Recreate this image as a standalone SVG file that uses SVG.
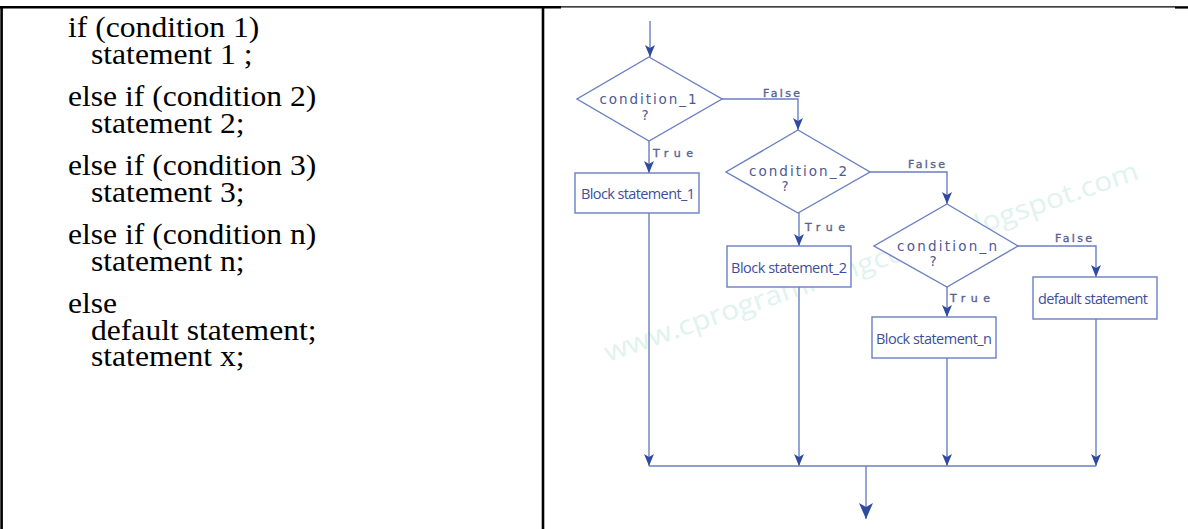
<svg xmlns="http://www.w3.org/2000/svg" width="1188" height="529" viewBox="0 0 1188 529">
<style>
.code{font-family:"Liberation Serif","Times New Roman",serif;font-size:29px;fill:#000}
.tbl{stroke:#000;fill:none}
.ln{stroke:#6a7fc2;stroke-width:1.4;fill:none}
.shape{stroke:#6a7fc2;stroke-width:1.4;fill:#fff}
.cond{font-family:"DejaVu Sans",sans-serif;font-size:13.5px;fill:#4c5a94;text-anchor:middle}
.blk{font-family:"Open Sans","Noto Sans",sans-serif;font-size:14.5px;fill:#3d4f9a;text-anchor:middle}
.tf{font-family:"DejaVu Sans",sans-serif;font-size:11px;fill:#56628f;stroke:#56628f;stroke-width:0.35}
.wm{font-family:"Open Sans","Noto Sans",sans-serif;font-size:27px;fill:#e0f3ee}
</style>
<defs>
<marker id="ah" viewBox="0 0 12 10" refX="12" refY="5" markerWidth="12" markerHeight="10" markerUnits="userSpaceOnUse" orient="auto">
<path d="M0,0 L12,5 L0,10 L3,5 Z" fill="#2f4a9e"/>
</marker>
<marker id="ahbig" viewBox="0 0 16 14" refX="16" refY="7" markerWidth="16" markerHeight="14" markerUnits="userSpaceOnUse" orient="auto">
<path d="M0,0 L16,7 L0,14 L4,7 Z" fill="#2f4a9e"/>
</marker>
</defs>
<rect width="1188" height="529" fill="#fff"/>
<g id="table">
<line class="tbl" x1="0" y1="7.2" x2="561" y2="7.2" stroke-width="2.6"/>
<line class="tbl" x1="561" y1="6.8" x2="1175" y2="6.8" stroke-width="1.2"/>
<line class="tbl" x1="1175" y1="7.4" x2="1188" y2="7.4" stroke-width="2.4"/>
<line class="tbl" x1="1.6" y1="6" x2="1.6" y2="529" stroke-width="2.6"/>
<line class="tbl" x1="543" y1="6" x2="543" y2="529" stroke-width="2.6"/>
</g>
<g id="code" transform="scale(1.09,1)">
<text class="code" x="62.4" y="37">if (condition 1)</text>
<text class="code" x="83.5" y="64">statement 1 ;</text>
<text class="code" x="62.4" y="106">else if (condition 2)</text>
<text class="code" x="83.5" y="133">statement 2;</text>
<text class="code" x="62.4" y="175">else if (condition 3)</text>
<text class="code" x="83.5" y="202">statement 3;</text>
<text class="code" x="62.4" y="244">else if (condition n)</text>
<text class="code" x="83.5" y="271">statement n;</text>
<text class="code" x="62.4" y="313">else</text>
<text class="code" x="83.5" y="340">default statement;</text>
<text class="code" x="83.5" y="366">statement x;</text>
</g>
<text class="wm" x="608" y="362" transform="rotate(-19 608 362)" textLength="563" lengthAdjust="spacingAndGlyphs">www.cprogrammingcodes.blogspot.com</text>
<g id="connectors">
<line class="ln" x1="650" y1="21" x2="650" y2="57" marker-end="url(#ah)"/>
<line class="ln" x1="649" y1="141" x2="649" y2="173" marker-end="url(#ah)"/>
<polyline class="ln" points="722,99 798,99 798,130" marker-end="url(#ah)"/>
<line class="ln" x1="799" y1="213" x2="799" y2="246" marker-end="url(#ah)"/>
<polyline class="ln" points="870,172 947,172 947,204" marker-end="url(#ah)"/>
<line class="ln" x1="947" y1="287" x2="947" y2="317" marker-end="url(#ah)"/>
<polyline class="ln" points="1018,246 1096,246 1096,277" marker-end="url(#ah)"/>
<line class="ln" x1="649" y1="213" x2="649" y2="466" marker-end="url(#ah)"/>
<line class="ln" x1="799" y1="287" x2="799" y2="466" marker-end="url(#ah)"/>
<line class="ln" x1="947" y1="358" x2="947" y2="466" marker-end="url(#ah)"/>
<line class="ln" x1="1096" y1="319" x2="1096" y2="466" marker-end="url(#ah)"/>
<line class="ln" x1="649" y1="466" x2="1096" y2="466"/>
<line class="ln" x1="866" y1="466" x2="866" y2="519" marker-end="url(#ahbig)"/>
<text class="tf" x="653" y="157" textLength="40">True</text>
<text class="tf" x="763" y="96.5" textLength="37">False</text>
<text class="tf" x="805" y="230.5" textLength="40">True</text>
<text class="tf" x="908" y="168" textLength="37">False</text>
<text class="tf" x="950" y="302" textLength="40">True</text>
<text class="tf" x="1055" y="242" textLength="37">False</text>
</g>
<g id="cond1">
<polygon class="shape" points="649,57 722,99 649,141 577,99"/>
<text class="cond" x="648" y="103.5" textLength="97">condition_1</text>
<text class="cond" x="645" y="120">?</text>
</g>
<g id="block1">
<rect class="shape" x="575" y="173" width="124" height="40"/>
<text class="blk" x="638" y="199" textLength="114">Block statement_1</text>
</g>
<g id="cond2">
<polygon class="shape" points="798,130 870,172 798,213 726,172"/>
<text class="cond" x="798" y="176" textLength="98">condition_2</text>
<text class="cond" x="785" y="191">?</text>
</g>
<g id="block2">
<rect class="shape" x="727" y="246" width="124" height="41"/>
<text class="blk" x="789" y="273" textLength="116">Block statement_2</text>
</g>
<g id="condn">
<polygon class="shape" points="947,204 1018,246 947,287 874,246"/>
<text class="cond" x="947" y="250.5" textLength="100">condition_n</text>
<text class="cond" x="933" y="266">?</text>
</g>
<g id="blockn">
<rect class="shape" x="872" y="317" width="124" height="41"/>
<text class="blk" x="934" y="344" textLength="116">Block statement_n</text>
</g>
<g id="default">
<rect class="shape" x="1033" y="277" width="124" height="42"/>
<text class="blk" x="1093" y="304" textLength="110">default statement</text>
</g>
</svg>
